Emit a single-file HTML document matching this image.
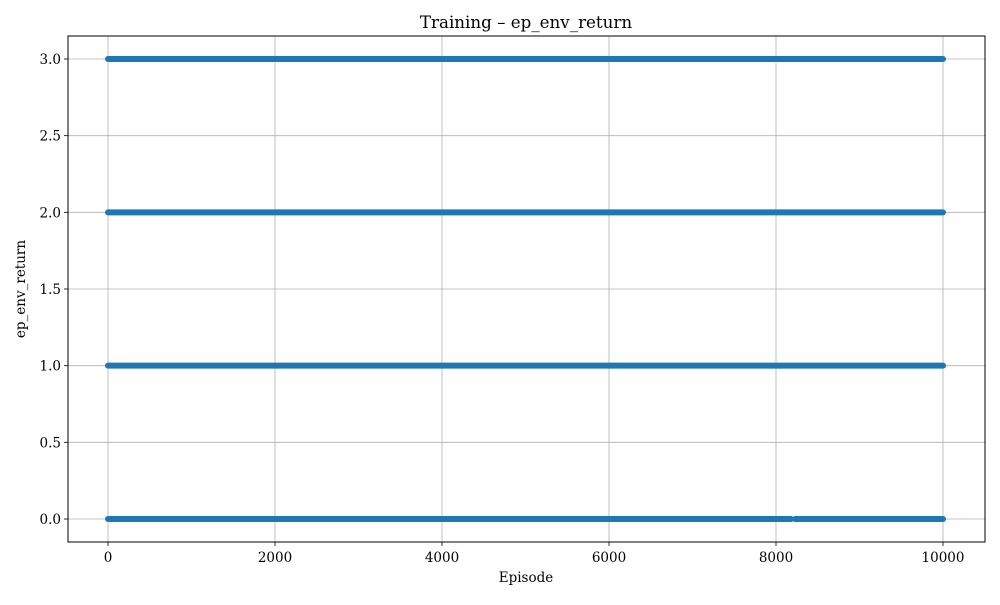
<!DOCTYPE html>
<html><head><meta charset="utf-8"><style>
body{margin:0;background:#fff;}
svg text{font-family:"DejaVu Serif","Liberation Serif",serif;fill:#000;}
</style></head><body>
<svg id="chart" width="1000" height="600" xmlns="http://www.w3.org/2000/svg">
<rect width="1000" height="600" fill="#fff"/>
<g id="grid"></g><g id="marks"></g><g id="axes"></g>
<text x="526" y="28" text-anchor="middle" font-size="16.7">Training – ep_env_return</text>
<text x="526" y="582" text-anchor="middle" font-size="13.5">Episode</text>
<text transform="translate(25,289) rotate(-90)" text-anchor="middle" font-size="13.5">ep_env_return</text>
</svg>
<script>
const levels=[0,1,2,3];
const xTicks=[0,2000,4000,6000,8000,10000];
const yTicks=[0,0.5,1,1.5,2,2.5,3];
const yTickLabels=["0.0","0.5","1.0","1.5","2.0","2.5","3.0"];
// episode ranges (start,end) where each return value occurs densely
const seg0=[[0,2900],[2920,8180],[8230,10000]];
const seg1=[[0,10000]];
const seg2=[[0,10000]];
const seg3=[[0,10000]];
const segments=[seg0,seg1,seg2,seg3];
const L=68,R=985,T=36,B=542;
const sx=v=>108+v*(943-108)/10000;
const sy=v=>519-v*(519-59)/3;
const NS="http://www.w3.org/2000/svg";
function mk(tag,attrs,parent){const e=document.createElementNS(NS,tag);for(const k in attrs)e.setAttribute(k,attrs[k]);parent.appendChild(e);return e;}
const grid=document.getElementById('grid'),marks=document.getElementById('marks'),axes=document.getElementById('axes');
xTicks.forEach(t=>{
 const g=mk('line',{x1:sx(t),x2:sx(t),y1:T,y2:B,stroke:'#b0b0b0','stroke-width':0.8},grid);
 
 
 const k=mk('line',{x1:sx(t),x2:sx(t),y1:B,y2:B+4,stroke:'#000','stroke-width':0.8},axes);
 
 
 const tx=mk('text',{x:sx(t),y:B+20,'text-anchor':'middle','font-size':13.5},axes);
 tx.textContent=t;
 
 
});
yTicks.forEach((t,i)=>{
 const g=mk('line',{x1:L,x2:R,y1:sy(t),y2:sy(t),stroke:'#b0b0b0','stroke-width':0.8},grid);
 
 
 const k=mk('line',{x1:L-4,x2:L,y1:sy(t),y2:sy(t),stroke:'#000','stroke-width':0.8},axes);
 
 
 const tx=mk('text',{x:L-7,y:sy(t)+5,'text-anchor':'end','font-size':13.5},axes);
 tx.textContent=yTickLabels[i];
 
 
});
levels.forEach((lv,i)=>{
 segments[i].forEach(s=>{
  const m=mk('line',{x1:sx(s[0]),x2:sx(s[1]),y1:sy(lv),y2:sy(lv),stroke:'#1f77b4','stroke-width':6,'stroke-linecap':'round'},marks);
  
  
 });
});
const fr=mk('rect',{x:L,y:T,width:R-L,height:B-T,fill:'none',stroke:'#000','stroke-width':1},axes);


</script>
</body></html>
